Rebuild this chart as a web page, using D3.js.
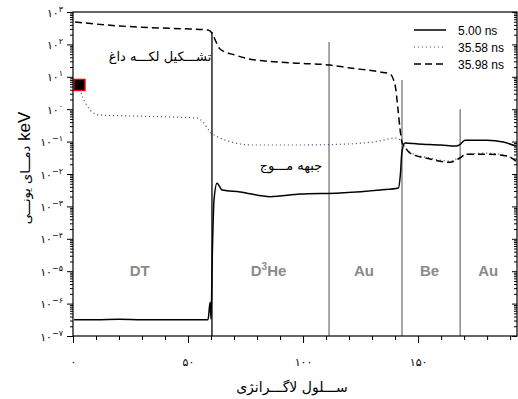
<!DOCTYPE html>
<html>
<head>
<meta charset="utf-8">
<script src="https://cdn.jsdelivr.net/npm/d3@7"></script>
<style>
  body { margin: 0; background: #fff; }
  svg { display: block; font-family: "Liberation Sans", Arial, sans-serif; }
  .fa { font-family: "DejaVu Sans", sans-serif; }
</style>
</head>
<body>
<div id="chart"></div>
<script>
// Lagrangian cell index vs ion temperature (keV)
const solidX = [0.5, 10, 20, 30, 40, 50, 58.7, 59.6, 60.0, 60.6, 61.3, 62.6, 64.8, 72.6, 85.7, 98.7, 116, 133.5, 141.5, 142.3, 143.0, 144.3, 150, 160, 166.5, 168, 170.4, 180, 187, 192.5];
const solidY = [3.2e-7, 3.2e-7, 3.3e-7, 3.2e-7, 3.2e-7, 3.2e-7, 3.2e-7, 1.1e-6, 3.3e-7, 4.5e-5, 1.6e-3, 5.2e-3, 3.2e-3, 2.8e-3, 2.0e-3, 2.4e-3, 2.6e-3, 3.2e-3, 3.7e-3, 9.5e-3, 4.9e-2, 9.1e-2, 8.5e-2, 7.9e-2, 7.3e-2, 7.9e-2, 0.11, 0.11, 0.097, 0.073];

const dottedX = [2.8, 3.9, 5.7, 8.3, 11.7, 24.8, 42.2, 54.3, 56.5, 59.6, 63.9, 69.6, 77, 98.7, 120.4, 133.5, 140, 142.2, 143.5, 146.5, 155.2, 163.9, 167.4, 171.3, 180, 188.7, 192.6];
const dottedY = [5.6, 2.72, 1.45, 0.82, 0.66, 0.62, 0.575, 0.53, 0.40, 0.20, 0.129, 0.094, 0.0786, 0.0786, 0.085, 0.105, 0.129, 0.113, 0.079, 0.047, 0.031, 0.025, 0.031, 0.041, 0.044, 0.036, 0.025];

const dashedX = [0.9, 20.4, 37.8, 50.9, 58.7, 60.4, 62.2, 63.9, 70.4, 77, 94.3, 111.7, 120.4, 133.5, 137.8, 140, 141.3, 142.2, 143, 144.3, 146.5, 155.2, 163.9, 167.4, 171.3, 180, 188.7, 192.6];
const dashedY = [491, 370, 321, 299, 278, 225, 119, 72, 47, 35, 27, 23, 18.7, 14.1, 12.2, 5.6, 0.94, 0.23, 0.097, 0.068, 0.044, 0.029, 0.023, 0.029, 0.041, 0.041, 0.036, 0.025];

const seriesNames = ["5.00 ns", "35.58 ns", "35.98 ns"];

// material boundaries and region names
const boundaryX = [60.4, 111.3, 143, 168.3];
const boundaryTop = [240, 118, 8, 1];
const regionNames = ["DT", "D3He", "Au", "Be", "Au"];
const regionX = [29, 85, 126.5, 155, 180.5];

const xTicks = [0, 50, 100, 150];
const yTicks = [1e-7, 1e-6, 1e-5, 1e-4, 1e-3, 1e-2, 1e-1, 1, 10, 100, 1000];

const width = 518, height = 399;
const margin = { top: 12, right: 1, bottom: 63, left: 73 };

const faDigits = "۰۱۲۳۴۵۶۷۸۹";
const fa = (s) => String(s).replace(/[0-9]/g, (d) => faDigits[+d]);

const svg = d3.select("#chart").append("svg")
  .attr("width", width).attr("height", height);

const x = d3.scaleLinear().domain([0, 193]).range([margin.left, width - margin.right]);
const y = d3.scaleLog().domain([1e-7, 1e3]).range([height - margin.bottom, margin.top]);

const minorY = [];
for (let e = -7; e < 3; e++) for (let m = 2; m < 10; m++) minorY.push(m * Math.pow(10, e));
const minorX = d3.range(0, 194, 10).filter((v) => v % 50 !== 0);

// region separators
svg.append("g").selectAll("line")
  .data(boundaryX)
  .join("line")
  .attr("x1", (d) => x(d)).attr("x2", (d) => x(d))
  .attr("y1", (d, i) => y(boundaryTop[i]))
  .attr("y2", y(1e-7))
  .attr("stroke", (d, i) => (i === 0 ? "#000" : "#777"))
  .attr("stroke-width", 1.3);

// region labels
const rl = svg.append("g").attr("fill", "#8a8a8a").attr("font-weight", "bold").attr("font-size", 15)
  .attr("text-anchor", "middle");
regionNames.forEach((n, i) => {
  const t = rl.append("text").attr("x", x(regionX[i])).attr("y", 276);
  if (n === "D3He") {
    t.append("tspan").text("D");
    t.append("tspan").text("3").attr("font-size", 10).attr("dy", -6);
    t.append("tspan").text("He").attr("dy", 6);
  } else t.text(n);
});

// curves
const line = d3.line().x((d) => x(d[0])).y((d) => y(d[1])).curve(d3.curveMonotoneX);
const series = [
  { pts: d3.zip(solidX, solidY), color: "#000", dash: null, w: 1.5 },
  { pts: d3.zip(dottedX, dottedY), color: "#3a3a8c", dash: "1,3", w: 1.2 },
  { pts: d3.zip(dashedX, dashedY), color: "#000", dash: "7,4", w: 1.5 }
];
svg.append("g").selectAll("path")
  .data(series)
  .join("path")
  .attr("d", (d) => line(d.pts))
  .attr("fill", "none")
  .attr("stroke", (d) => d.color)
  .attr("stroke-width", (d) => d.w)
  .attr("stroke-dasharray", (d) => d.dash);

// marker on first point of the 35.58 ns profile
svg.append("rect")
  .attr("x", x(dottedX[0]) - 5.5).attr("y", y(dottedY[0]) - 5.5)
  .attr("width", 11).attr("height", 11)
  .attr("fill", "#000").attr("stroke", "#e00").attr("stroke-width", 1.5);

// frame
svg.append("rect")
  .attr("x", margin.left).attr("y", margin.top)
  .attr("width", width - margin.right - margin.left)
  .attr("height", height - margin.bottom - margin.top)
  .attr("fill", "none").attr("stroke", "#000").attr("stroke-width", 1.2);

// x axis
svg.append("g").attr("transform", `translate(0,${y(1e-7)})`)
  .call(d3.axisBottom(x).tickValues(xTicks).tickSize(7).tickFormat(fa))
  .call((g) => g.select(".domain").remove())
  .call((g) => g.selectAll("text").attr("class", "fa").attr("font-size", 11).attr("dy", 20).attr("fill", "#000"));
svg.append("g").attr("transform", `translate(0,${y(1e-7)})`)
  .call(d3.axisBottom(x).tickValues(minorX).tickSize(4).tickFormat(""))
  .call((g) => g.select(".domain").remove());

// y axis
const yAx = svg.append("g").attr("transform", `translate(${margin.left},0)`)
  .call(d3.axisLeft(y).tickValues(yTicks).tickSize(6).tickFormat(""))
  .call((g) => g.select(".domain").remove());
yAx.selectAll(".tick").append("text")
  .attr("class", "fa")
  .attr("x", -10).attr("dy", 4)
  .attr("text-anchor", "end").attr("fill", "#000")
  .each(function (d) {
    const e = Math.round(Math.log10(d));
    const t = d3.select(this);
    t.append("tspan").text("۱۰").attr("font-size", 11);
    t.append("tspan").text((e < 0 ? "\u2212" : "") + fa(Math.abs(e)))
      .attr("font-size", 8).attr("dy", -5);
  });
svg.append("g").attr("transform", `translate(${margin.left},0)`)
  .call(d3.axisLeft(y).tickValues(minorY).tickSize(3).tickFormat(""))
  .call((g) => g.select(".domain").remove());
// right side ticks
svg.append("g").attr("transform", `translate(${width - margin.right},0)`)
  .call(d3.axisLeft(y).tickValues(yTicks).tickSize(-5).tickFormat(""))
  .call((g) => g.select(".domain").remove())
  .call((g) => g.selectAll("line").attr("x2", -5));
svg.append("g").attr("transform", `translate(${width - margin.right},0)`)
  .call(d3.axisLeft(y).tickValues(minorY).tickSize(-3).tickFormat(""))
  .call((g) => g.select(".domain").remove())
  .call((g) => g.selectAll("line").attr("x2", -3));

// axis titles
svg.append("text")
  .attr("class", "fa")
  .attr("x", 292).attr("y", 392)
  .attr("text-anchor", "middle").attr("font-size", 14)
  .text("ســـلول لاگـــرانژی");

const yt = svg.append("text")
  .attr("transform", "translate(30,168) rotate(-90)")
  .attr("text-anchor", "middle");
yt.append("tspan").attr("class", "fa").attr("font-size", 13).text("دمـــای یونـــی");
yt.append("tspan").attr("font-size", 17).text(" keV");

// annotations
svg.append("text").attr("class", "fa")
  .attr("x", 160).attr("y", 61).attr("text-anchor", "middle").attr("font-size", 13)
  .text("تشـــکیل لکـــه داغ");
svg.append("text").attr("class", "fa")
  .attr("x", 291).attr("y", 170).attr("text-anchor", "middle").attr("font-size", 13)
  .text("جبهه مـــوج");

// legend
const leg = svg.append("g").attr("transform", "translate(414,30)");
seriesNames.forEach((n, i) => {
  const s = series[i];
  leg.append("line")
    .attr("x1", 0).attr("x2", 32).attr("y1", i * 17).attr("y2", i * 17)
    .attr("stroke", s.color).attr("stroke-width", i === 1 ? 1.2 : 1.5)
    .attr("stroke-dasharray", s.dash);
  leg.append("text")
    .attr("x", 44).attr("y", i * 17 + 4.5)
    .attr("font-size", 12).attr("fill", "#000")
    .text(n);
});
</script>
</body>
</html>
